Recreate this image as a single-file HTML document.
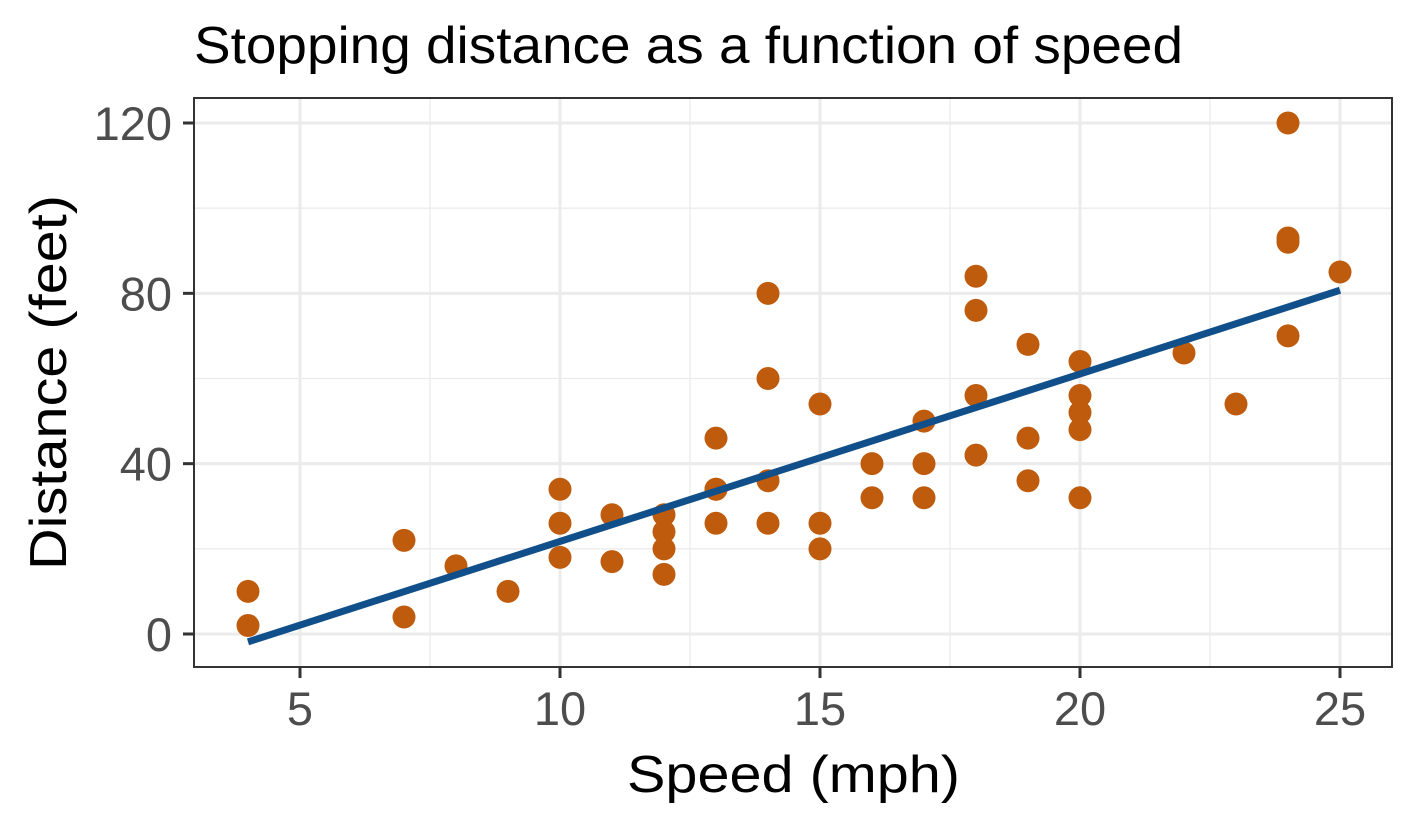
<!DOCTYPE html>
<html><head><meta charset="utf-8"><style>
body{margin:0;background:#fff}
svg{display:block;font-family:"Liberation Sans",sans-serif}
</style></head><body>
<svg id="c" width="1417" height="826">
<text x="194" y="63" font-size="52" textLength="989" lengthAdjust="spacingAndGlyphs" fill="#000">Stopping distance as a function of speed</text>
<rect x="194" y="98" width="1198" height="569" fill="#fff"/>
<g id="grid"></g>
<g id="pts"></g>
<g id="fit"></g>
<rect x="194" y="98" width="1198" height="569" fill="none" stroke="#333" stroke-width="2"/>
<g id="axes"></g>
<text x="627" y="792" font-size="52" textLength="333" lengthAdjust="spacingAndGlyphs" fill="#000">Speed (mph)</text>
<text transform="translate(66,570) rotate(-90)" font-size="52" textLength="375" lengthAdjust="spacingAndGlyphs" fill="#000">Distance (feet)</text>
</svg>
<script>
const speed=[4,4,7,7,8,9,10,10,10,11,11,12,12,12,12,13,13,13,13,14,14,14,14,15,15,15,16,16,17,17,17,18,18,18,18,19,19,19,20,20,20,20,20,22,23,24,24,24,24,25];
const dist=[2,10,4,22,16,10,18,26,34,17,28,14,20,24,28,26,34,34,46,26,36,60,80,20,26,54,32,40,32,40,50,42,56,76,84,36,46,68,32,48,52,56,64,66,54,70,92,93,120,85];
const xTicks=[5,10,15,20,25];
const xMinor=[7.5,12.5,17.5,22.5];
const yTicks=[0,40,80,120];
const yMinor=[20,60,100];
const fitCoef=[-17.579,3.932];
const fitRange=[4,25];
const X=v=>300+(v-5)*52;
const Y=v=>634-v*(511/120);
const NS="http://www.w3.org/2000/svg";
function mk(p,t,a){const e=document.createElementNS(NS,t);for(const k in a)e.setAttribute(k,a[k]);document.getElementById(p).appendChild(e);return e;}
xMinor.forEach(v=>{const e=mk('grid','line',{x1:X(v),x2:X(v),y1:98,y2:667,stroke:'#ebebeb','stroke-width':1.3});

});
yMinor.forEach(v=>{const e=mk('grid','line',{x1:194,x2:1392,y1:Y(v),y2:Y(v),stroke:'#ebebeb','stroke-width':1.3});

});
xTicks.forEach(v=>{const e=mk('grid','line',{x1:X(v),x2:X(v),y1:98,y2:667,stroke:'#ebebeb','stroke-width':3});


const t=mk('axes','line',{x1:X(v),x2:X(v),y1:667,y2:678,stroke:'#333','stroke-width':3});


const l=mk('axes','text',{x:X(v),y:725,'font-size':47,fill:'#4d4d4d','text-anchor':'middle'});l.textContent=v;

});
yTicks.forEach(v=>{const e=mk('grid','line',{x1:194,x2:1392,y1:Y(v),y2:Y(v),stroke:'#ebebeb','stroke-width':3});


const t=mk('axes','line',{x1:183,x2:194,y1:Y(v),y2:Y(v),stroke:'#333','stroke-width':3});


const l=mk('axes','text',{x:172,y:Y(v)+17,'font-size':47,fill:'#4d4d4d','text-anchor':'end'});l.textContent=v;

});
speed.forEach((s,i)=>{const c=mk('pts','circle',{cx:X(s),cy:Y(dist[i]),r:11.5,fill:'#bf5b0c'});

});
const f=v=>fitCoef[0]+fitCoef[1]*v;
const ln=mk('fit','line',{x1:X(fitRange[0]),y1:Y(f(fitRange[0])),x2:X(fitRange[1]),y2:Y(f(fitRange[1])),stroke:'#114f8a','stroke-width':7});


</script>
</body></html>
